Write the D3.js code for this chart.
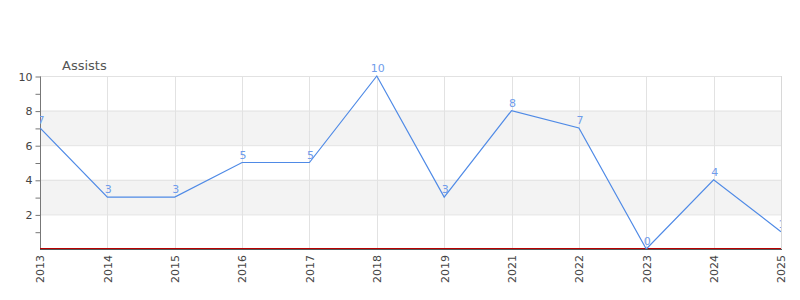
<!DOCTYPE html>
<html><head><meta charset="utf-8">
<script src="https://cdn.jsdelivr.net/npm/d3@7"></script>
<style>body{margin:0;background:#fff}svg{display:block}text{font-family:"DejaVu Sans",sans-serif}</style>
</head><body>
<svg id="c" width="800" height="300"></svg>
<script>
const years = ["2013","2014","2015","2016","2017","2018","2019","2021","2022","2023","2024","2025"];
const assists = [7,3,3,5,5,10,3,8,7,0,4,1];
const yTicks = [2,4,6,8,10];
const bands = [[2,4],[6,8]];
const title = "Assists";

const svg = d3.select("#c");
const m = {l:40, r:781, t:76, b:249};
const x = d3.scalePoint().domain(years).range([m.l, m.r]);
const y = d3.scaleLinear().domain([0,10]).range([m.b, m.t]);

svg.append("defs").append("clipPath").attr("id","pc")
  .append("rect").attr("x",m.l).attr("y",m.t-20).attr("width",m.r-m.l).attr("height",m.b-m.t+20);

svg.selectAll(".band").data(bands).join("rect")
  .attr("x",m.l).attr("width",m.r-m.l)
  .attr("y",d=>y(d[1])).attr("height",d=>y(d[0])-y(d[1]))
  .attr("fill","#f3f3f3");

svg.selectAll(".hg").data(yTicks).join("line")
  .attr("x1",m.l).attr("x2",m.r).attr("y1",d=>y(d)+0.5).attr("y2",d=>y(d)+0.5)
  .attr("stroke","#e2e2e2");
svg.selectAll(".vg").data(years).join("line")
  .attr("x1",d=>Math.round(x(d))+0.5).attr("x2",d=>Math.round(x(d))+0.5)
  .attr("y1",m.t).attr("y2",m.b).attr("stroke","#e2e2e2");
svg.append("line").attr("x1",m.r+0.5).attr("x2",m.r+0.5).attr("y1",m.t).attr("y2",m.b).attr("stroke","#d8d8d8");

const ya = svg.append("g").attr("transform",`translate(${m.l+0.5},0.5)`)
  .call(d3.axisLeft(y).tickValues(d3.range(1,11)).tickSize(5).tickFormat(d=>d%2===0?d:""));
ya.select(".domain").attr("stroke","#777").attr("d",`M-0,${m.t}V${m.b}`);
ya.selectAll(".tick line").attr("stroke","#777");
ya.selectAll(".tick text").attr("fill","#444").attr("font-size",11).attr("x",-8)
  .style("font-family","DejaVu Sans, sans-serif");

const xa = svg.append("g").attr("transform",`translate(0,${m.b})`)
  .call(d3.axisBottom(x).tickSize(0).tickPadding(0));
xa.select(".domain").remove();
xa.selectAll(".tick text").attr("fill","#444").attr("font-size",11)
  .attr("transform","rotate(-90)").attr("text-anchor","end")
  .attr("x",-6).attr("y",0).attr("dy","0.35em")
  .style("font-family","DejaVu Sans, sans-serif");

svg.append("line").attr("x1",m.l).attr("x2",m.r).attr("y1",y(0)-0.5).attr("y2",y(0)-0.5).attr("stroke","#b80000");
svg.append("line").attr("x1",m.l).attr("x2",m.r+1).attr("y1",y(0)+0.5).attr("y2",y(0)+0.5).attr("stroke","#555");

const g = svg.append("g").attr("clip-path","url(#pc)");
g.append("path").datum(assists)
  .attr("fill","none").attr("stroke","#4f8ae6").attr("stroke-width",1.2)
  .attr("d",d3.line().x((d,i)=>x(years[i])).y(d=>y(d)));
g.selectAll(".lbl").data(assists).join("text")
  .attr("x",(d,i)=>x(years[i])+1).attr("y",d=>y(d)-4)
  .attr("text-anchor","middle").attr("font-size",11).attr("fill","#6f9ceb")
  .text(d=>d);

svg.append("text").attr("x",62).attr("y",70).attr("font-size",13).attr("fill","#555").text(title);
</script>
</body></html>
